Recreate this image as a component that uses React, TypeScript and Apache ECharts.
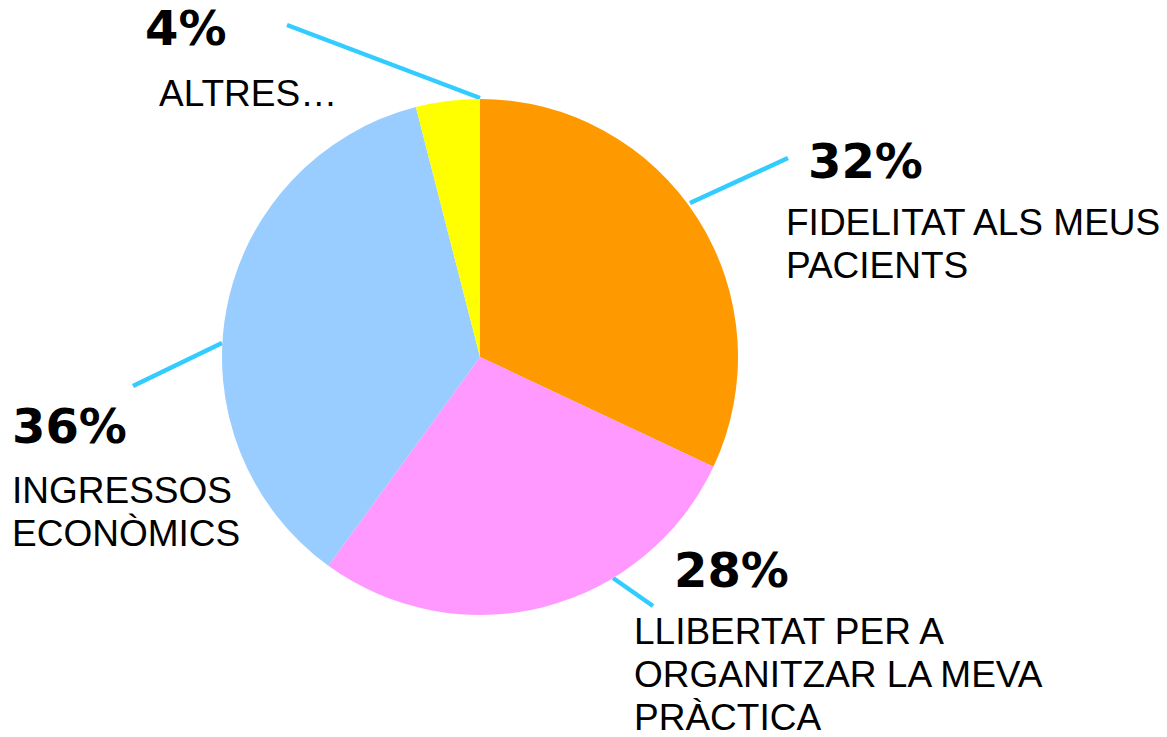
import React, { useEffect, useRef } from "react";
import * as echarts from "echarts";

const categories = [
  "FIDELITAT ALS MEUS\nPACIENTS",
  "LLIBERTAT PER A\nORGANITZAR LA MEVA\nPRÀCTICA",
  "INGRESSOS\nECONÒMICS",
  "ALTRES…",
];
const values = [32, 28, 36, 4];
const colors = ["#FF9900", "#FF99FF", "#99CCFF", "#FFFF00"];

// label layout (block left/top, indents, percent line height)
const labelPos = [
  { x: 786, y: 121, pctIndent: 22, textIndent: 0, pctLH: 80 },
  { x: 634, y: 530, pctIndent: 40, textIndent: 0, pctLH: 80 },
  { x: 12, y: 383, pctIndent: 0, textIndent: 0, pctLH: 86 },
  { x: 145, y: -16, pctIndent: 0, textIndent: 14, pctLH: 88 },
];
// leader line start points on the pie edge and outer ends
const leaderLines = [
  [[690, 203], [788, 158]],
  [[613, 578], [653, 606]],
  [[222, 343], [133, 386]],
  [[480, 98], [287, 25]],
];

export default function App() {
  const ref = useRef<HTMLDivElement>(null);
  useEffect(() => {
    if (!ref.current) return;
    const chart = echarts.init(ref.current, null, { renderer: "svg" });
    const data = values.map((v, i) => {
      const lp = labelPos[i];
      const lines = categories[i].split("\n");
      return {
        value: v,
        name: categories[i],
        itemStyle: { color: colors[i] },
        label: {
          formatter:
            `{p|${v}%}\n` + lines.map((l) => `{t|${l}}`).join("\n"),
          rich: {
            p: {
              fontFamily: "DejaVu Sans",
              fontWeight: "bold",
              fontSize: 48,
              lineHeight: lp.pctLH,
              color: "#000",
              padding: [0, 0, 0, lp.pctIndent],
            },
            t: {
              fontFamily: "Liberation Sans, Arial, sans-serif",
              fontSize: 37,
              lineHeight: 43,
              color: "#000",
              padding: [0, 0, 0, lp.textIndent],
            },
          },
        },
      };
    });
    chart.setOption({
      animation: false,
      backgroundColor: "#ffffff",
      series: [
        {
          type: "pie",
          center: [480, 357],
          radius: 258,
          startAngle: 90,
          clockwise: true,
          avoidLabelOverlap: false,
          data,
          label: {
            show: true,
            position: "outside",
            width: 440,
            overflow: "none",
            color: "#000",
          },
          labelLine: {
            show: true,
            length: 20,
            length2: 0,
            lineStyle: { color: "#33CCFF", width: 4.5 },
          },
          labelLayout: (params: any) => {
            const i = params.dataIndex;
            const lp = labelPos[i];
            return {
              x: lp.x,
              y: lp.y,
              align: "left",
              verticalAlign: "top",
              labelLinePoints: leaderLines[i],
            };
          },
          emphasis: { disabled: true },
        },
      ],
    });
    return () => chart.dispose();
  }, []);
  return (
    <div
      ref={ref}
      style={{ position: "absolute", left: 0, top: 0, width: 1167, height: 737 }}
    />
  );
}
